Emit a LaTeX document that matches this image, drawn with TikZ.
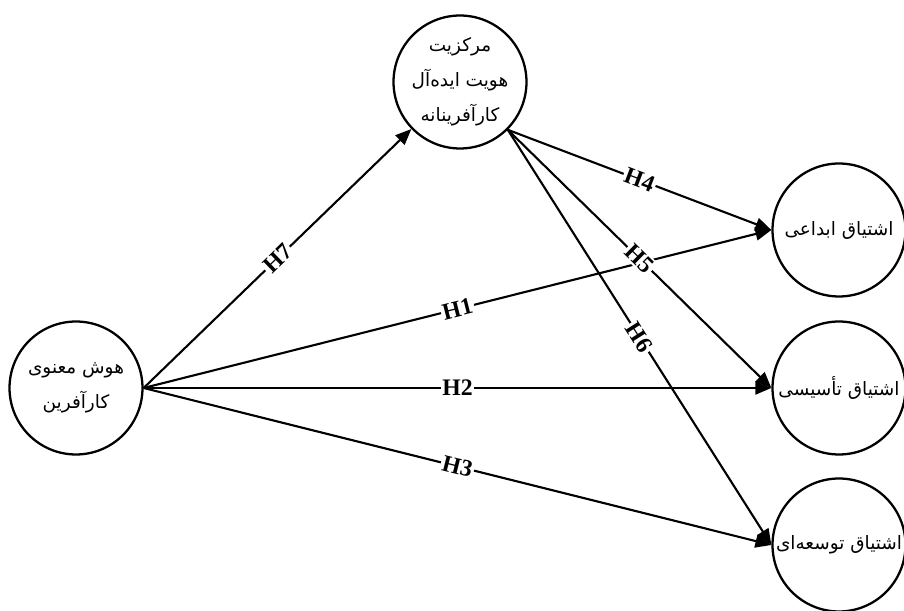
\documentclass[tikz,border=0pt]{standalone}
\usepackage{fontspec}
\usepackage{tikz}
\usetikzlibrary{arrows.meta,positioning}
\TeXXeTstate=1
\newfontfamily\fa[Script=Arabic]{DejaVu Sans}
\newfontfamily\hfont{Liberation Serif}
\tikzset{
	var/.style={draw, circle, line width=1.3pt, minimum size=2.66cm, inner sep=0pt, align=center,
		font=\fa\fontsize{10.5}{20}\selectfont},
	hyp/.style={-{Triangle[length=0.32cm,width=0.26cm]}, line width=1.2pt},
	hlab/.style={sloped, midway, fill=white, inner sep=1pt, font=\hfont\bfseries\fontsize{13.5}{13.5}\selectfont}
}

\begin{document}
\begin{tikzpicture}[x=0.02cm, y=-0.02cm]
			\useasboundingbox (0,0) rectangle (904,611);
			\node[var] (SI) at (76,388) {\beginR هوش معنوی\endR\\\beginR کارآفرین\endR};
			\node[var] (EI) at (460,82) {\beginR مرکزیت\endR\\\beginR هویت ایده‌آل\endR\\\beginR کارآفرینانه\endR};
			\node[var] (P1) at (839,230) {\beginR اشتیاق ابداعی\endR};
			\node[var] (P2) at (839,388) {\beginR اشتیاق تأسیسی\endR};
			\node[var] (P3) at (839,545) {\beginR اشتیاق توسعه‌ای\endR};
			\draw[hyp] (SI.east) -- (EI) node[hlab] {H7};
			\draw[hyp] (SI.east) -- (P1.west) node[hlab] {H1};
			\draw[hyp] (SI.east) -- (P2.west) node[hlab] {H2};
			\draw[hyp] (SI.east) -- (P3.west) node[hlab] {H3};
			\draw[hyp] (EI.-45) -- (P1.west) node[hlab] {H4};
			\draw[hyp] (EI.-45) -- (P2.west) node[hlab] {H5};
			\draw[hyp] (EI.-45) -- (P3.west) node[hlab] {H6};
		\end{tikzpicture}
\end{document}
